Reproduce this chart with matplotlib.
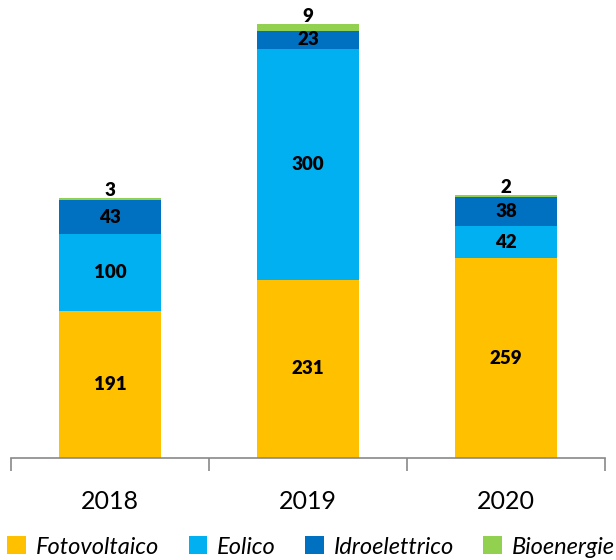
import matplotlib.pyplot as plt
import numpy as np

# data
anni = ['2018', '2019', '2020']
fotovoltaico = [191, 231, 259]
eolico = [100, 300, 42]
idroelettrico = [43, 23, 38]
bioenergie = [3, 9, 2]

serie = ['Fotovoltaico', 'Eolico', 'Idroelettrico', 'Bioenergie']
colori = ['#FFC000', '#00B0F0', '#0070C0', '#92D050']

plt.rcParams['font.family'] = ['Lato', 'DejaVu Sans']

fig = plt.figure(figsize=(6.16, 5.6), dpi=100)
ax = fig.add_axes([11 / 616, 102 / 560, 594 / 616, 458 / 560])

x = np.arange(len(anni))
bottom = np.zeros(len(anni))
valori = [fotovoltaico, eolico, idroelettrico, bioenergie]
for nome, vals, col in zip(serie, valori, colori):
    vals = np.array(vals)
    ax.bar(x, vals, 0.52, bottom=bottom, color=col, label=nome)
    for xi, b, v in zip(x, bottom, vals):
        if nome == 'Bioenergie':
            ax.text(xi, b + v - 1.5, str(v), ha='center', va='bottom',
                    fontsize=13.5, fontweight='heavy')
        else:
            ax.text(xi, b + v / 2, str(v), ha='center', va='center',
                    fontsize=13.5, fontweight='heavy')
    bottom += vals

ax.set_xlim(-0.5, 2.5)
ax.set_ylim(0, 594)

# axes styling
for s in ['top', 'right', 'left']:
    ax.spines[s].set_visible(False)
ax.spines['bottom'].set_color('#898989')
ax.spines['bottom'].set_linewidth(1.2)
ax.set_yticks([])
ax.set_xticks(x)
ax.set_xticklabels(anni, fontsize=18)
ax.tick_params(axis='x', which='major', length=0, pad=23)
ax.set_xticks([-0.5, 0.5, 1.5, 2.5], minor=True)
ax.tick_params(axis='x', which='minor', length=9, width=1.2, color='#898989')

leg = ax.legend(loc='lower center', bbox_to_anchor=(0.505, -0.238), ncol=4,
                frameon=False, handlelength=0.8, handleheight=0.8,
                handletextpad=0.4, columnspacing=1.25, borderaxespad=0,
                prop={'style': 'italic', 'size': 17})

fig.savefig('out.png', dpi=100)
